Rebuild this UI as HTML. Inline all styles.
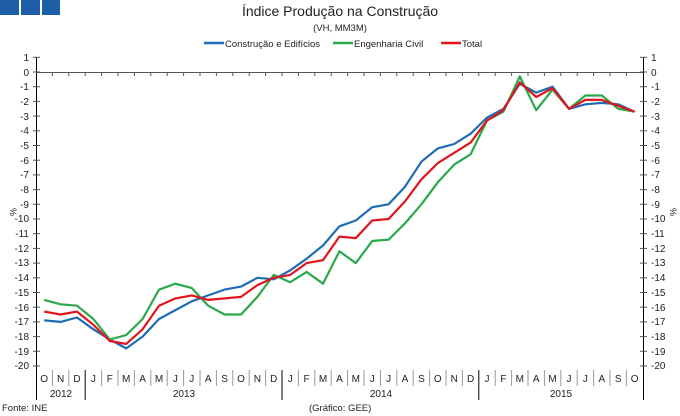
<!DOCTYPE html>
<html><head><meta charset="utf-8"><style>
html,body{margin:0;padding:0;background:#fff;}
svg{display:block;font-family:"Liberation Sans",Arial,sans-serif;}
</style></head><body>
<svg width="680" height="416" viewBox="0 0 680 416" xmlns="http://www.w3.org/2000/svg">
<rect x="0" y="0" width="19" height="15" fill="#1f5fa8"/>
<rect x="21" y="0" width="19" height="15" fill="#1f5fa8"/>
<rect x="42" y="0" width="18" height="15" fill="#1f5fa8"/>
<text x="340" y="16" font-size="14" text-anchor="middle" fill="#222">Índice Produção na Construção</text>
<text x="340" y="31" font-size="9.5" text-anchor="middle" fill="#222">(VH, MM3M)</text>
<line x1="204" y1="43" x2="224" y2="43" stroke="#1f6bb5" stroke-width="2.5"/>
<text x="225" y="47" font-size="9.5" fill="#222">Construção e Edifícios</text>
<line x1="333" y1="43" x2="353" y2="43" stroke="#2aa84a" stroke-width="2.5"/>
<text x="354" y="47" font-size="9.5" fill="#222">Engenharia Civil</text>
<line x1="441" y1="43" x2="461" y2="43" stroke="#e0161c" stroke-width="2.5"/>
<text x="462" y="47" font-size="9.5" fill="#222">Total</text>
<g stroke="#000" stroke-width="1">
<line x1="36.5" y1="57" x2="36.5" y2="400"/>
<line x1="643.5" y1="57" x2="643.5" y2="400"/>
<line x1="36" y1="72.5" x2="643" y2="72.5" stroke="#555"/>
</g>
<g id="ticks" stroke="#555" stroke-width="1"></g>
<g font-size="10" fill="#222" text-anchor="end">
<text x="29" y="61">1</text><text x="29" y="76">0</text><text x="29" y="90">-1</text><text x="29" y="105">-2</text><text x="29" y="120">-3</text><text x="29" y="134">-4</text><text x="29" y="149">-5</text><text x="29" y="164">-6</text><text x="29" y="178">-7</text><text x="29" y="193">-8</text><text x="29" y="208">-9</text><text x="29" y="222">-10</text><text x="29" y="237">-11</text><text x="29" y="252">-12</text><text x="29" y="266">-13</text><text x="29" y="281">-14</text><text x="29" y="296">-15</text><text x="29" y="311">-16</text><text x="29" y="325">-17</text><text x="29" y="340">-18</text><text x="29" y="355">-19</text><text x="29" y="369">-20</text>
</g>
<g font-size="10" fill="#222">
<text x="651" y="61">1</text><text x="651" y="76">0</text><text x="651" y="90">-1</text><text x="651" y="105">-2</text><text x="651" y="120">-3</text><text x="651" y="134">-4</text><text x="651" y="149">-5</text><text x="651" y="164">-6</text><text x="651" y="178">-7</text><text x="651" y="193">-8</text><text x="651" y="208">-9</text><text x="651" y="222">-10</text><text x="651" y="237">-11</text><text x="651" y="252">-12</text><text x="651" y="266">-13</text><text x="651" y="281">-14</text><text x="651" y="296">-15</text><text x="651" y="311">-16</text><text x="651" y="325">-17</text><text x="651" y="340">-18</text><text x="651" y="355">-19</text><text x="651" y="369">-20</text>
</g>
<text x="10" y="212" font-size="9" fill="#222" transform="rotate(90 10 212)" text-anchor="middle">%</text>
<text x="670" y="212" font-size="9" fill="#222" transform="rotate(90 670 212)" text-anchor="middle">%</text>
<g font-size="10" fill="#222" text-anchor="middle">
<text x="44.2" y="382">O</text><text x="60.6" y="382">N</text><text x="77" y="382">D</text>
<text x="93.4" y="382">J</text><text x="109.8" y="382">F</text><text x="126.2" y="382">M</text><text x="142.6" y="382">A</text><text x="159" y="382">M</text><text x="175.4" y="382">J</text><text x="191.8" y="382">J</text><text x="208.2" y="382">A</text><text x="224.6" y="382">S</text><text x="241" y="382">O</text><text x="257.4" y="382">N</text><text x="273.8" y="382">D</text>
<text x="290.2" y="382">J</text><text x="306.6" y="382">F</text><text x="323" y="382">M</text><text x="339.4" y="382">A</text><text x="355.8" y="382">M</text><text x="372.2" y="382">J</text><text x="388.6" y="382">J</text><text x="405" y="382">A</text><text x="421.4" y="382">S</text><text x="437.8" y="382">O</text><text x="454.2" y="382">N</text><text x="470.6" y="382">D</text>
<text x="487" y="382">J</text><text x="503.4" y="382">F</text><text x="519.8" y="382">M</text><text x="536.2" y="382">A</text><text x="552.6" y="382">M</text><text x="569" y="382">J</text><text x="585.4" y="382">J</text><text x="601.8" y="382">A</text><text x="618.2" y="382">S</text><text x="634.6" y="382">O</text>
<text x="61" y="397">2012</text><text x="184" y="397">2013</text><text x="381" y="397">2014</text><text x="561" y="397">2015</text>
</g>
<text x="2" y="411" font-size="9.5" fill="#222">Fonte: INE</text>
<text x="309" y="411" font-size="9.5" fill="#222">(Gráfico: GEE)</text>
<g id="series" fill="none" stroke-width="2.2" stroke-linejoin="round"></g>
</svg>
<script>
var ns="http://www.w3.org/2000/svg";
var t=document.getElementById("ticks");
function ln(x1,y1,x2,y2,c){var l=document.createElementNS(ns,"line");l.setAttribute("x1",x1);l.setAttribute("y1",y1);l.setAttribute("x2",x2);l.setAttribute("y2",y2);if(c)l.setAttribute("stroke",c);t.appendChild(l);}
for(var v=1;v>=-20;v--){var y=72-14.7*v;ln(33,y,40,y);ln(640,y,647,y);}
for(var k=1;k<37;k++){var x=36+16.4*k;var yr=(k==3||k==15||k==27);ln(x,72,x,76);ln(x,370,x,yr?400:386,yr?"#000":"#999");}
var B=[-16.9,-17.0,-16.7,-17.5,-18.2,-18.8,-18.0,-16.8,-16.2,-15.6,-15.2,-14.8,-14.6,-14.0,-14.1,-13.5,-12.7,-11.8,-10.5,-10.1,-9.2,-9.0,-7.8,-6.1,-5.2,-4.9,-4.2,-3.1,-2.5,-0.8,-1.4,-1.0,-2.5,-2.2,-2.1,-2.2,-2.7];
var G=[-15.5,-15.8,-15.9,-16.8,-18.2,-17.9,-16.8,-14.8,-14.4,-14.7,-15.9,-16.5,-16.5,-15.3,-13.8,-14.3,-13.6,-14.4,-12.2,-13.0,-11.5,-11.4,-10.3,-9.0,-7.5,-6.3,-5.6,-3.3,-2.7,-0.3,-2.6,-1.2,-2.5,-1.6,-1.6,-2.5,-2.7];
var R=[-16.3,-16.5,-16.3,-17.2,-18.3,-18.5,-17.5,-15.9,-15.4,-15.2,-15.5,-15.4,-15.3,-14.5,-14.0,-13.8,-13.0,-12.8,-11.2,-11.3,-10.1,-10.0,-8.8,-7.3,-6.2,-5.5,-4.8,-3.3,-2.6,-0.7,-1.7,-1.1,-2.5,-1.9,-1.9,-2.3,-2.7];
var s=document.getElementById("series");
[[B,"#1f6bb5"],[G,"#2aa84a"],[R,"#e0161c"]].forEach(function(p){var pl=document.createElementNS(ns,"polyline");pl.setAttribute("points",p[0].map(function(v,i){return (36+16.4*(i+0.5)).toFixed(1)+","+(72-14.7*v).toFixed(1);}).join(" "));pl.setAttribute("stroke",p[1]);s.appendChild(pl);});
</script>
</body></html>
